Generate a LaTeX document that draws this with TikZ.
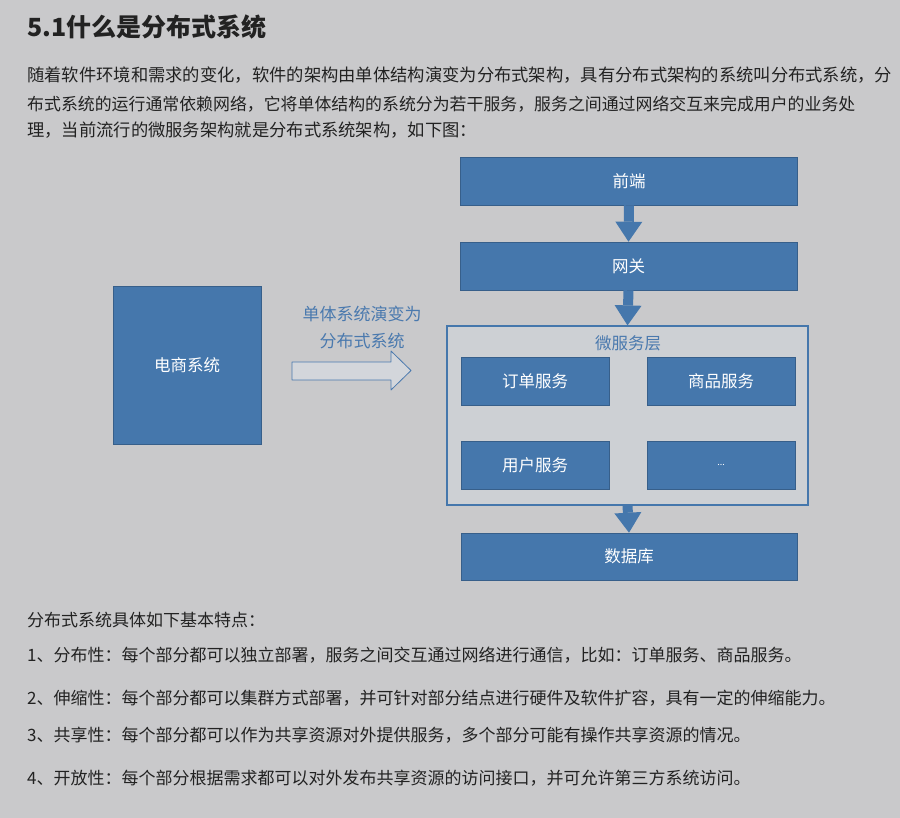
\documentclass[tikz,border=0pt]{standalone}
\usepackage{fontspec}
\setmainfont{Noto Sans CJK SC}
\usetikzlibrary{arrows.meta}
\definecolor{pagebg}{HTML}{C9C9CB}
\definecolor{boxblue}{HTML}{4577AC}
\definecolor{layerbg}{HTML}{CDD0D4}
\definecolor{inkgray}{HTML}{222222}
\definecolor{labelblue}{HTML}{4A79AE}
\definecolor{arrowfill}{HTML}{D3D6DB}
\tikzset{
  bluebox/.style={fill=boxblue, draw=boxblue!80!black, line width=0.6pt, text=white,
    font=\fontsize{16.5}{19}\selectfont, inner sep=0pt},
  textline/.style={anchor=west, inner sep=0pt, text=inkgray, font=\fontsize{17.3}{20}\selectfont},
  itemline/.style={textline, font=\fontsize{17}{20}\selectfont},
  flow/.style={draw=boxblue, line width=10pt, -{Triangle[width=27pt,length=20pt,line width=0pt]}},
}
\begin{document}
\begin{tikzpicture}[x=1pt, y=-1pt]
  \fill[pagebg] (0,0) rectangle (900,818);
  \useasboundingbox (0,0) rectangle (900,818);
  % heading and paragraph
  \node[textline, font=\fontsize{25}{28}\bfseries] (title) at (27,27) {5.1什么是分布式系统};
  \node[textline] (para1) at (27,75.5) {随着软件环境和需求的变化，软件的架构由单体结构演变为分布式架构，具有分布式架构的系统叫分布式系统，分};
  \node[textline, font=\fontsize{16.9}{20}\selectfont] (para2) at (27,104) {布式系统的运行通常依赖网络，它将单体结构的系统分为若干服务，服务之间通过网络交互来完成用户的业务处};
  \node[textline] (para3) at (27,130) {理，当前流行的微服务架构就是分布式系统架构，如下图：};
  % diagram
  \node[bluebox, minimum width=148pt, minimum height=158pt] (shop) at (187,365) {电商系统};
  \draw[draw=labelblue, fill=arrowfill, line width=0.8pt, line join=round]
    (292,362) -- (391,362) -- (391,351) -- (411,370.5) -- (391,390) -- (391,380) -- (292,380) -- cycle;
  \node[text=labelblue, font=\fontsize{17}{20}\selectfont, inner sep=0pt] (evolve1) at (362,314) {单体系统演变为};
  \node[text=labelblue, font=\fontsize{17}{20}\selectfont, inner sep=0pt] (evolve2) at (362,341) {分布式系统};
  \node[bluebox, minimum width=337pt, minimum height=48pt] (front) at (629,181) {前端};
  \node[bluebox, minimum width=337pt, minimum height=48pt] (gateway) at (628.5,266) {网关};
  \node[draw=boxblue, fill=layerbg, line width=1.2pt, minimum width=361pt, minimum height=179pt] (layer) at (627.5,415.5) {};
  \node[text=labelblue, font=\fontsize{16.5}{19}\selectfont, inner sep=0pt] (layername) at (628,343) {微服务层};
  \node[bluebox, minimum width=148pt, minimum height=48pt] (order) at (535,381) {订单服务};
  \node[bluebox, minimum width=148pt, minimum height=48pt] (goods) at (721,381) {商品服务};
  \node[bluebox, minimum width=148pt, minimum height=48pt] (user) at (535,465) {用户服务};
  \node[bluebox, minimum width=148pt, minimum height=48pt, font=\fontsize{9}{10}\selectfont] (more) at (721,465) {...};
  \node[bluebox, minimum width=336pt, minimum height=47pt] (db) at (629,556.5) {数据库};
  \draw[flow] (front.south) -- (gateway.north);
  \draw[flow] (gateway.south) -- (layer.north);
  \draw[flow] (layer.south) -- (db.north);
  % features
  \node[itemline] (intro) at (27,620) {分布式系统具体如下基本特点：};
  \node[itemline] (item1) at (27,655) {1、分布性：每个部分都可以独立部署，服务之间交互通过网络进行通信，比如：订单服务、商品服务。};
  \node[itemline] (item2) at (27,698) {2、伸缩性：每个部分都可以集群方式部署，并可针对部分结点进行硬件及软件扩容，具有一定的伸缩能力。};
  \node[itemline] (item3) at (27,735) {3、共享性：每个部分都可以作为共享资源对外提供服务，多个部分可能有操作共享资源的情况。};
  \node[itemline] (item4) at (27,778) {4、开放性：每个部分根据需求都可以对外发布共享资源的访问接口，并可允许第三方系统访问。};
\end{tikzpicture}
\end{document}
